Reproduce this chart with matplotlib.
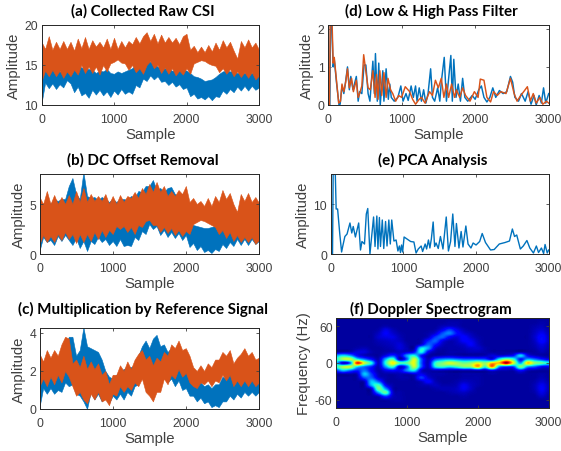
import numpy as np
import matplotlib
matplotlib.use('Agg')
import matplotlib.pyplot as plt

plt.rcParams['font.family'] = ['Liberation Sans', 'DejaVu Sans']
plt.rcParams['axes.unicode_minus'] = False

BLUE = '#0072BD'
ORANGE = '#D95319'
GRAY = '#404040'

band_x = list(range(0, 3001, 50))

# (a) raw CSI, upper and lower edges of the two noisy traces
a_orange_hi = [17.9, 17.0, 18.6, 16.9, 17.9, 17.0, 18.0, 17.0, 17.9, 16.8,
               18.3, 17.1, 18.5, 17.0, 18.1, 17.3, 17.9, 17.2, 18.3, 17.0,
               18.4, 17.0, 18.0, 17.2, 18.0, 17.6, 18.5, 17.7, 18.6, 19.1,
               18.0, 18.9, 17.7, 18.8, 17.8, 18.5, 17.8, 18.4, 17.6, 18.6,
               18.9, 16.9, 17.4, 16.6, 17.3, 16.6, 17.5, 16.7, 17.8, 16.9,
               18.1, 17.2, 17.9, 16.8, 15.8, 18.0, 17.2, 18.2, 17.2, 17.8,
               16.9]
a_orange_lo = [13.0, 14.3, 13.6, 14.4, 13.6, 14.3, 13.4, 14.2, 13.6, 14.4,
               13.8, 15.0, 14.0, 14.8, 14.0, 14.8, 13.8, 15.0, 14.2, 15.2,
               15.4, 15.7, 15.3, 15.2, 14.4, 15.0, 14.1, 14.6, 13.9, 15.0,
               15.5, 14.6, 15.0, 14.0, 14.7, 13.9, 14.6, 13.7, 14.3, 13.8,
               14.6, 13.9, 15.2, 15.4, 15.6, 15.5, 15.2, 15.0, 14.9, 14.1,
               14.6, 13.9, 14.5, 13.6, 14.2, 13.5, 14.1, 13.4, 14.1, 13.2,
               13.7]
a_blue_hi = [14.0, 14.9, 14.5, 14.5, 14.6, 14.2, 14.2, 14.7, 14.5, 14.5,
             14.8, 14.7, 14.5, 14.5, 14.4, 14.0, 14.3, 14.2, 14.5, 14.0,
             13.9, 14.2, 14.0, 14.2, 14.4, 14.6, 15.0, 15.2, 15.5, 15.5,
             15.4, 15.2, 14.8, 14.6, 14.6, 14.5, 14.3, 14.3, 14.3, 14.4,
             14.3, 14.0, 13.6, 13.5, 13.3, 13.0, 13.1, 13.2, 13.5, 13.9,
             14.2, 14.3, 14.2, 14.2, 14.0, 14.0, 14.0, 14.0, 14.0, 14.0,
             13.5]
a_blue_lo = [10.2, 12.8, 12.1, 12.7, 12.0, 12.6, 12.2, 13.1, 12.7, 11.6,
             12.3, 11.2, 11.5, 10.9, 11.9, 11.3, 11.9, 11.2, 11.7, 11.0,
             11.8, 11.3, 12.0, 11.4, 11.7, 11.4, 12.5, 12.2, 13.3, 13.0,
             13.7, 13.2, 13.6, 12.9, 13.0, 12.5, 12.9, 12.3, 12.6, 12.0,
             12.2, 11.1, 11.4, 10.8, 11.0, 10.7, 11.1, 10.6, 11.1, 11.0,
             11.8, 11.4, 12.0, 11.6, 12.3, 11.8, 12.4, 11.8, 12.4, 11.9,
             12.2]

# (b) DC offset removal
b_orange_hi = [5.7, 5.0, 6.3, 5.0, 5.9, 5.0, 5.7, 5.0, 5.9, 5.0,
               6.3, 5.2, 6.6, 5.2, 6.0, 5.3, 5.8, 5.3, 6.0, 5.0,
               5.8, 5.0, 5.9, 5.2, 5.8, 5.6, 6.2, 5.6, 6.6, 6.0,
               7.0, 6.2, 7.2, 6.2, 6.8, 5.8, 6.3, 5.8, 6.4, 6.0,
               6.8, 5.2, 5.6, 5.0, 5.3, 4.8, 5.6, 4.8, 5.8, 5.2,
               6.4, 5.5, 6.1, 5.0, 4.2, 6.0, 5.3, 6.1, 5.2, 5.7,
               5.1]
b_orange_lo = [1.0, 1.9, 1.2, 1.8, 1.2, 2.0, 1.4, 2.2, 1.5, 2.0,
               1.1, 2.0, 1.2, 2.0, 1.3, 2.2, 1.5, 2.4, 1.7, 2.4,
               2.0, 2.8, 2.5, 2.8, 2.2, 2.7, 2.0, 2.9, 2.7, 3.3,
               3.4, 2.9, 2.9, 2.2, 2.7, 2.1, 2.6, 1.9, 2.4, 1.8,
               2.3, 2.0, 3.0, 3.2, 3.4, 3.3, 3.1, 2.9, 2.7, 2.0,
               2.4, 1.6, 2.2, 1.3, 1.9, 1.2, 1.7, 1.2, 1.7, 1.0,
               1.4]
b_blue_hi = [5.0, 5.0, 5.5, 5.0, 5.5, 5.3, 5.5, 5.5, 6.8, 7.6,
             6.0, 5.5, 8.2, 5.8, 5.6, 5.7, 5.4, 5.7, 5.5, 5.2,
             5.5, 5.2, 5.5, 5.5, 5.4, 5.8, 5.6, 6.3, 6.2, 6.8,
             6.8, 7.4, 6.4, 6.6, 6.2, 6.6, 6.7, 6.0, 5.8, 6.0,
             6.2, 3.4, 2.9, 2.8, 2.7, 2.6, 2.6, 2.7, 2.8, 2.9,
             3.0, 3.0, 3.0, 3.0, 3.0, 3.0, 3.0, 3.0, 3.0, 3.0,
             3.0]
b_blue_lo = [0.3, 1.7, 1.2, 1.4, 0.9, 1.8, 1.3, 1.9, 1.4, 0.9,
             1.6, 0.6, 1.3, 0.3, 1.3, 1.0, 1.7, 1.2, 1.5, 0.9,
             1.3, 0.8, 1.5, 0.8, 0.9, 0.8, 1.7, 1.4, 2.3, 2.0,
             3.0, 2.5, 2.8, 1.9, 2.4, 1.7, 2.2, 1.6, 2.1, 1.4,
             1.9, 0.7, 1.1, 0.4, 0.8, 0.2, 0.4, 0.1, 0.5, 0.3,
             1.0, 0.6, 1.2, 0.8, 1.5, 0.9, 1.5, 0.9, 1.5, 1.0,
             1.3]

# (c) multiplication by reference signal
c_orange_hi = [2.9, 2.5, 3.1, 2.7, 3.1, 2.8, 3.4, 3.8, 3.7, 2.4,
               2.6, 2.2, 2.8, 2.1, 2.5, 2.1, 2.4, 1.8, 2.0, 1.3,
               1.8, 1.8, 2.3, 2.0, 2.5, 2.1, 2.6, 2.9, 3.1, 2.6,
               2.8, 2.3, 2.7, 2.5, 3.0, 2.8, 3.4, 3.2, 3.6, 3.1,
               3.2, 2.8, 2.2, 2.0, 2.3, 2.0, 2.4, 2.2, 2.6, 2.6,
               3.0, 2.8, 3.1, 2.4, 2.7, 2.9, 3.2, 2.8, 3.0, 2.6,
               2.7]
c_orange_lo = [1.2, 1.6, 1.2, 1.7, 1.3, 1.8, 1.4, 2.0, 1.7, 1.2,
               0.7, 0.9, 0.5, 0.3, 0.8, 0.5, 0.9, 0.4, 0.5, 0.2,
               0.8, 0.7, 1.2, 0.9, 1.2, 1.0, 1.4, 1.2, 1.6, 0.9,
               0.7, 0.4, 0.9, 0.9, 1.6, 1.3, 1.8, 1.6, 2.1, 1.7,
               1.9, 1.4, 1.2, 1.1, 1.4, 1.3, 1.5, 1.2, 1.5, 1.4,
               1.8, 1.5, 1.8, 1.2, 1.5, 1.2, 1.5, 1.2, 1.5, 1.2,
               1.4]
c_blue_hi = [2.4, 2.5, 2.6, 2.7, 2.6, 2.7, 2.9, 3.2, 3.8, 3.8,
             2.8, 3.1, 4.3, 3.3, 3.2, 3.1, 3.0, 2.6, 2.0, 1.7,
             1.6, 1.8, 2.0, 2.1, 2.2, 2.2, 2.3, 2.8, 3.3, 3.6,
             3.2, 3.7, 3.9, 3.3, 3.4, 3.0, 3.2, 3.0, 3.2, 2.9,
             2.6, 2.0, 1.6, 1.3, 1.4, 1.2, 1.3, 1.1, 1.3, 1.3,
             1.7, 1.6, 1.9, 1.6, 1.6, 1.4, 1.6, 1.4, 1.6, 1.3,
             1.4]
c_blue_lo = [0.1, 1.1, 0.8, 1.1, 0.8, 1.0, 0.9, 1.4, 1.2, 1.3,
             0.8, 0.7, 0.4, 0.0, 0.9, 0.5, 0.8, 0.4, 0.6, 0.3,
             0.7, 0.5, 0.8, 0.5, 0.9, 0.7, 1.2, 1.3, 2.0, 1.9,
             2.3, 2.0, 2.3, 1.8, 1.9, 1.4, 1.6, 1.2, 1.5, 1.0,
             1.1, 0.7, 0.7, 0.4, 0.6, 0.3, 0.4, 0.1, 0.2, 0.1,
             0.4, 0.4, 0.7, 0.5, 0.8, 0.6, 0.9, 0.7, 0.9, 0.7,
             0.9]

# (d) low and high pass filter
d_blue_x = [0, 25, 35, 50, 70, 85, 115, 150, 165, 190, 215, 235, 265, 290, 310, 340, 385, 410, 430, 460,
            490, 515, 545, 570, 610, 630, 645, 670, 690, 710, 745, 760, 790, 820, 840, 860, 900, 950, 990, 1020,
            1060, 1090, 1130, 1160, 1190, 1210, 1240, 1270, 1300, 1330, 1360, 1395, 1420, 1450, 1490, 1520, 1540, 1580, 1610, 1630,
            1670, 1690, 1710, 1740, 1770, 1800, 1830, 1860, 1900, 1960, 2000, 2050, 2085, 2120, 2160, 2200, 2240, 2280, 2330, 2380,
            2430, 2480, 2510, 2540, 2590, 2630, 2680, 2720, 2760, 2800, 2830, 2870, 2900, 2930, 2960, 3000]
d_blue_y = [0, 0, 2.2, 2.2, 1.0, 1.2, 0.6, 0, 0.02, 0.5, 0.3, 0.55, 1.0, 0.4, 0.75, 0.4, 0.75, 0.1, 0.35, 0.3,
            1.05, 1.05, 0.3, 0.1, 1.15, 0.3, 1.35, 0.1, 1.1, 0, 0.9, 0.1, 0.95, 0.15, 0.55, 0.2, 0.1, 0.2, 0.5, 0.1,
            0.3, 0.12, 0.5, 0.2, 0.5, 0.1, 0.45, 0.1, 0.4, 0.05, 0.3, 0.95, 0.2, 0.1, 0.45, 0.1, 0.6, 1.25, 0.1, 0.5,
            1.3, 0.1, 1.2, 0.2, 0.55, 0.1, 0.7, 0.2, 0.1, 0.25, 0.15, 0.4, 0.5, 0.2, 0.08, 0.2, 0.45, 0.2, 0.38, 0.3,
            0.35, 0.75, 0.6, 0.2, 0.1, 0.3, 0.1, 0.35, 0.02, 0.25, 0, 0.25, 0.05, 0.45, 0.05, 0.3]
d_orange_x = [0, 20, 30, 55, 70, 85, 115, 145, 170, 190, 215, 240, 265, 290, 320, 345, 385, 410, 430, 460,
              485, 510, 545, 575, 610, 640, 660, 680, 705, 730, 760, 790, 815, 850, 880, 920, 960, 1000, 1050, 1110,
              1150, 1190, 1240, 1270, 1320, 1380, 1420, 1460, 1500, 1540, 1575, 1610, 1640, 1680, 1720, 1745, 1790, 1830, 1870, 1930,
              1990, 2040, 2070, 2120, 2160, 2210, 2250, 2300, 2350, 2420, 2480, 2530, 2570, 2620, 2660, 2710, 2750, 2790, 2830, 2880,
              2920, 2970, 3000]
d_orange_y = [0, 0, 2.2, 2.2, 1.1, 1.25, 0.65, 0.05, 0.1, 0.55, 0.35, 0.6, 0.95, 0.45, 0.7, 0.35, 0.65, 0.2, 0.3, 0.5,
              1.32, 0.95, 0.45, 0.4, 0.9, 0.2, 0.8, 0.15, 0.9, 0.25, 0.85, 0.2, 0.7, 0.4, 0.3, 0.1, 0.25, 0.2, 0.48, 0.35,
              0.15, 0.02, 0.15, 0.2, 0.05, 0.35, 0.25, 0.65, 0.45, 0.7, 0.2, 0.55, 0.2, 0.55, 0.2, 0.4, 0.2, 0.45, 0.25, 0.1,
              0.35, 0.2, 0.68, 0.65, 0.2, 0.08, 0.35, 0.25, 0.35, 0.3, 0.7, 0.3, 0.1, 0.25, 0.35, 0.48, 0.1, 0.3, 0.05, 0.2,
              0.02, 0.1, 0.05]

# (e) PCA analysis
e_x = [0, 25, 35, 60, 75, 95, 125, 150, 165, 195, 225, 265, 290, 310, 340, 385, 410, 430, 465, 490,
       510, 540, 590, 610, 635, 650, 670, 685, 710, 730, 755, 775, 800, 820, 840, 870, 900, 925, 945, 960,
       975, 990, 1010, 1050, 1100, 1145, 1175, 1205, 1245, 1265, 1300, 1320, 1345, 1365, 1385, 1410, 1430, 1450, 1480, 1510,
       1545, 1590, 1620, 1650, 1680, 1710, 1730, 1765, 1795, 1820, 1860, 1890, 1930, 1960, 2000, 2050, 2085, 2130, 2200, 2250,
       2320, 2400, 2460, 2500, 2530, 2560, 2610, 2650, 2700, 2740, 2790, 2830, 2860, 2900, 2930, 2950, 2980, 3000]
e_y = [0, 0, 18, 18, 9, 9, 4, 0.4, 1.5, 3.5, 4, 6.2, 4.2, 5.5, 3.4, 6.2, 0.8, 2.5, 2, 8,
       9.1, 0, 7.4, 1.5, 7.6, 1, 7.3, 1.5, 6.8, 1.1, 6.5, 1.6, 6.8, 2, 6.8, 2.6, 2.8, 0.6, 1.6, 0.3,
       1.8, 0.4, 3.4, 3, 2.5, 2.4, 0.2, 1, 1.6, 0.5, 2, 1, 2.8, 1.2, 3, 6.4, 1.5, 2.2, 1.1, 3.5,
       1, 7.4, 0.6, 2.5, 8, 1.5, 6.1, 1.2, 4.5, 1.4, 5.6, 2, 1.2, 2.2, 1.8, 2.5, 4.1, 2.3, 0.8, 0.9,
       2, 2.3, 2.6, 5, 3.5, 3.8, 1, 1.6, 2.7, 1.2, 0.2, 1.6, 0.3, 1.2, 0.1, 1.9, 0.2, 0.8]

# (f) spectrogram intensity, 0 to 100; columns every 100 samples, rows every 6 Hz from 72 down to -72
spec_x = list(range(0, 3001, 100))
spec_f = list(range(72, -73, -6))
spec_grid = [
    [3, 3, 3, 3, 3, 3, 3, 3, 3, 3, 3, 3, 3, 3, 3, 3, 3, 3, 3, 3, 3, 3, 3, 3, 3, 3, 3, 3, 3, 3, 3],
    [3, 3, 3, 3, 3, 3, 3, 3, 3, 3, 3, 3, 3, 3, 3, 3, 4, 4, 3, 3, 3, 3, 3, 3, 3, 3, 3, 3, 3, 4, 3],
    [3, 3, 3, 3, 3, 3, 3, 4, 3, 3, 3, 3, 3, 3, 3, 5, 6, 5, 3, 3, 3, 3, 3, 3, 3, 3, 3, 3, 4, 5, 3],
    [3, 3, 3, 3, 3, 3, 4, 9, 5, 3, 3, 3, 3, 3, 4, 10, 18, 10, 5, 3, 3, 3, 3, 3, 3, 3, 3, 3, 5, 7, 4],
    [3, 3, 3, 3, 3, 3, 6, 11, 7, 4, 3, 3, 3, 4, 8, 20, 25, 14, 8, 5, 3, 3, 3, 3, 3, 3, 3, 3, 6, 10, 5],
    [3, 3, 3, 3, 3, 3, 7, 9, 9, 5, 3, 3, 3, 6, 18, 22, 12, 8, 12, 7, 4, 3, 3, 3, 3, 3, 3, 3, 7, 13, 6],
    [3, 3, 3, 3, 3, 3, 5, 6, 7, 6, 3, 3, 4, 15, 22, 10, 5, 6, 11, 10, 5, 3, 3, 3, 3, 3, 3, 3, 6, 13, 6],
    [3, 3, 3, 3, 3, 3, 4, 5, 6, 8, 4, 3, 8, 22, 15, 6, 4, 5, 7, 11, 6, 3, 3, 3, 3, 3, 3, 3, 5, 9, 5],
    [3, 3, 3, 4, 5, 3, 3, 4, 5, 8, 5, 4, 35, 28, 8, 4, 4, 4, 5, 7, 7, 4, 3, 3, 3, 3, 3, 3, 4, 7, 4],
    [3, 4, 5, 8, 8, 4, 3, 4, 5, 6, 7, 12, 38, 12, 4, 3, 4, 4, 4, 5, 5, 4, 3, 3, 3, 3, 3, 3, 3, 5, 3],
    [28, 35, 28, 12, 6, 4, 3, 10, 18, 8, 28, 38, 15, 4, 4, 5, 6, 5, 4, 4, 4, 5, 8, 8, 10, 14, 34, 12, 6, 4, 3],
    [38, 55, 58, 38, 25, 14, 5, 30, 45, 6, 22, 60, 22, 5, 20, 26, 28, 25, 22, 22, 22, 20, 12, 38, 52, 42, 14, 30, 24, 16, 10],
    [35, 6, 22, 88, 60, 38, 6, 40, 66, 45, 46, 62, 22, 6, 40, 50, 60, 55, 48, 52, 62, 52, 70, 72, 97, 62, 28, 70, 52, 46, 36],
    [40, 55, 58, 36, 25, 16, 5, 28, 42, 8, 22, 58, 22, 6, 36, 42, 36, 42, 50, 52, 72, 42, 78, 28, 20, 20, 50, 28, 22, 12, 10],
    [18, 32, 24, 16, 24, 12, 4, 10, 14, 10, 26, 36, 8, 4, 6, 6, 5, 5, 6, 6, 8, 6, 12, 6, 5, 5, 14, 6, 4, 3, 3],
    [3, 4, 4, 6, 32, 18, 5, 4, 4, 5, 5, 8, 10, 5, 4, 4, 3, 3, 4, 4, 4, 3, 4, 3, 3, 3, 4, 3, 3, 4, 3],
    [3, 3, 3, 4, 20, 22, 8, 4, 3, 4, 4, 4, 18, 8, 4, 3, 3, 3, 4, 4, 4, 3, 3, 3, 3, 3, 3, 3, 3, 5, 3],
    [3, 3, 3, 3, 6, 32, 22, 5, 3, 3, 3, 3, 6, 12, 5, 3, 3, 4, 6, 5, 4, 3, 3, 3, 3, 3, 3, 3, 4, 7, 4],
    [3, 3, 3, 3, 4, 30, 42, 12, 4, 3, 3, 3, 4, 5, 6, 4, 4, 5, 10, 6, 4, 3, 3, 3, 3, 3, 3, 3, 5, 10, 5],
    [3, 3, 3, 3, 3, 8, 48, 28, 5, 3, 3, 3, 3, 3, 4, 5, 5, 6, 10, 6, 3, 3, 3, 3, 3, 3, 3, 3, 5, 11, 5],
    [3, 3, 3, 3, 3, 4, 28, 46, 8, 4, 3, 3, 3, 3, 3, 3, 4, 5, 6, 4, 3, 3, 3, 3, 3, 3, 3, 3, 4, 9, 4],
    [3, 3, 3, 3, 3, 3, 6, 18, 6, 4, 3, 3, 3, 3, 3, 3, 3, 3, 4, 3, 3, 3, 3, 3, 3, 3, 3, 3, 3, 6, 3],
    [3, 3, 3, 3, 3, 3, 3, 4, 4, 4, 3, 3, 3, 3, 3, 3, 3, 3, 3, 3, 3, 3, 3, 3, 3, 3, 3, 3, 3, 3, 3],
    [3, 3, 3, 3, 3, 3, 3, 3, 3, 3, 3, 3, 3, 3, 3, 3, 3, 3, 3, 3, 3, 3, 3, 3, 3, 3, 3, 3, 3, 3, 3],
    [3, 3, 3, 3, 3, 3, 3, 3, 3, 3, 3, 3, 3, 3, 3, 3, 3, 3, 3, 3, 3, 3, 3, 3, 3, 3, 3, 3, 3, 3, 3],
]

W, H = 561, 452


def make_axes(left, top, right, bottom, title, ylabel, ylim, yticks, title_x, title_y=11):
    ax = fig.add_axes([left / W, 1 - bottom / H, (right - left) / W, (bottom - top) / H])
    ax.set_xlim(0, 3000)
    ax.set_ylim(*ylim)
    ax.set_xticks([0, 1000, 2000, 3000])
    ax.set_yticks(yticks)
    ax.tick_params(direction='in', length=2.2, width=0.6, top=True, right=True,
                   labelsize=8.8, colors=GRAY)
    ax.tick_params(axis='x', pad=5.5)
    ax.tick_params(axis='y', pad=2.5)
    for s in ax.spines.values():
        s.set_linewidth(0.7)
        s.set_color('#262626')
    ax.set_xlabel('Sample', fontsize=10.7, color=GRAY, labelpad=1.5)
    ax.set_ylabel(ylabel, fontsize=10.7, color=GRAY, labelpad=2.5)
    fig.text(title_x / W, 1 - title_y / H, title, family='Lato', weight='bold', fontsize=10.9,
             color='black', ha='center', va='center')
    return ax


def draw_band(ax, hi, lo, color):
    ax.fill_between(band_x, lo, hi, color=color, lw=0.4)


fig = plt.figure(figsize=(W / 100, H / 100), dpi=100)

ax = make_axes(41.5, 26, 259, 106, '(a) Collected Raw CSI', 'Amplitude', (10, 20), [10, 15, 20], 143)
draw_band(ax, a_blue_hi, a_blue_lo, BLUE)
draw_band(ax, a_orange_hi, a_orange_lo, ORANGE)

ax = make_axes(39.5, 175, 259, 255, '(b) DC Offset Removal', 'Amplitude', (0, 8), [0, 5], 143, 160)
draw_band(ax, b_blue_hi, b_blue_lo, BLUE)
draw_band(ax, b_orange_hi, b_orange_lo, ORANGE)

ax = make_axes(39.5, 329, 259, 410, '(c) Multiplication by Reference Signal', 'Amplitude', (0, 4.26), [0, 2, 4], 143, 309)
draw_band(ax, c_blue_hi, c_blue_lo, BLUE)
draw_band(ax, c_orange_hi, c_orange_lo, ORANGE)

ax = make_axes(328, 26, 548.7, 106, '(d) Low & High Pass Filter', 'Amplitude', (0, 2.1), [0, 1, 2], 431)
ax.plot(d_blue_x, d_blue_y, color=BLUE, lw=1.05)
ax.plot(d_orange_x, d_orange_y, color=ORANGE, lw=1.05)

ax = make_axes(330.7, 175, 548.7, 255, '(e) PCA Analysis', 'Amplitude', (0, 16), [0, 10], 433, 160)
ax.plot(e_x, e_y, color=BLUE, lw=1.0)

ax = make_axes(336, 319, 548.7, 409, '(f) Doppler Spectrogram', 'Frequency (Hz)', (-73, 73), [-60, 0, 60], 431, 309)
ax.imshow(np.array(spec_grid), cmap='jet', vmin=0, vmax=100, aspect='auto', interpolation='catrom',
          extent=[spec_x[0] - 50, spec_x[-1] + 50, spec_f[-1] - 3, spec_f[0] + 3])
ax.set_xlim(0, 3000)
ax.set_ylim(-73, 73)

fig.savefig('out.png', dpi=100)
